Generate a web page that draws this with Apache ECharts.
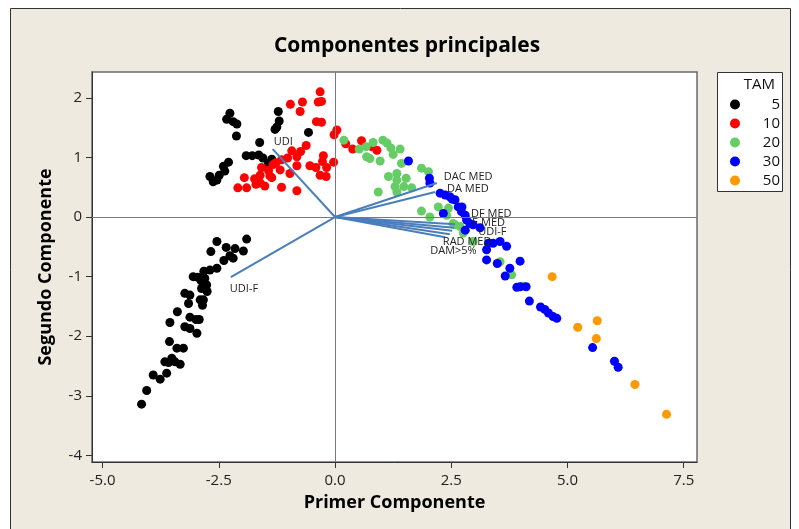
<!DOCTYPE html>
<html>
<head>
<meta charset="utf-8">
<script src="https://cdn.jsdelivr.net/npm/echarts@6/dist/echarts.min.js"></script>
<style>html,body{margin:0;padding:0;background:#fff;}#c{width:799px;height:529px;}</style>
</head>
<body>
<div id="c"></div>
<script>
// ---- data ----
const groupNames = ['5', '10', '20', '30', '50'];
const groupColors = ['#000000', '#FF0000', '#66CC66', '#0000FF', '#FF9900'];

const tam5 = [
  [-2.26,1.74],[-2.33,1.64],[-2.19,1.60],[-2.11,1.56],[-2.12,1.36],[-1.22,1.77],[-1.20,1.61],[-1.25,1.51],
  [-1.29,1.47],[-0.57,1.42],[-1.62,1.25],[-1.91,1.03],[-1.78,1.03],[-1.64,1.04],[-1.55,0.99],[-1.43,0.90],
  [-1.36,0.97],[-2.29,0.92],[-2.40,0.85],[-2.37,0.77],[-2.49,0.70],[-2.69,0.68],[-2.62,0.59],[-2.54,0.62],
  [-1.90,-0.37],[-2.54,-0.41],[-2.67,-0.58],[-2.34,-0.51],[-2.15,-0.53],[-1.97,-0.57],[-2.19,-0.69],[-2.39,-0.73],
  [-2.26,-0.65],[-2.54,-0.86],[-2.69,-0.89],[-2.82,-0.91],[-3.05,-1.00],[-2.95,-1.01],[-2.80,-1.03],[-2.88,-1.07],
  [-2.76,-1.14],[-2.87,-1.20],[-2.75,-1.25],[-2.83,-1.39],[-2.90,-1.39],[-2.85,-1.48],[-3.23,-1.28],[-3.12,-1.31],
  [-3.15,-1.45],[-3.39,-1.59],[-3.55,-1.77],[-3.12,-1.68],[-2.99,-1.72],[-2.92,-1.72],[-3.23,-1.84],[-3.12,-1.87],
  [-2.97,-1.95],[-3.56,-2.09],[-3.40,-2.20],[-3.26,-2.20],[-3.66,-2.43],[-3.51,-2.37],[-3.58,-2.44],[-3.44,-2.43],
  [-3.33,-2.47],[-3.91,-2.65],[-3.76,-2.72],[-3.62,-2.62],[-4.05,-2.91],[-4.16,-3.14]
];
const tam10 = [
  [-0.32,2.10],[-0.36,1.93],[-0.29,1.94],[-0.70,1.93],[-0.96,1.89],[-0.75,1.77],[-0.40,1.60],[-0.29,1.59],
  [0.04,1.46],[-0.02,1.38],[-0.93,1.11],[-0.62,1.20],[-0.74,1.10],[-0.82,1.01],[-1.02,0.99],[-1.15,0.96],
  [-1.27,0.91],[-1.33,0.88],[-1.58,0.83],[-1.43,0.78],[-1.18,0.79],[-0.82,0.86],[-0.54,0.86],[-0.41,0.83],
  [-0.25,1.03],[-0.27,0.93],[-0.18,0.83],[-0.03,0.92],[-0.32,0.70],[-0.19,0.68],[-0.97,0.73],[-1.61,0.70],
  [-1.73,0.64],[-1.40,0.69],[-1.36,0.66],[-1.95,0.66],[-2.09,0.49],[-1.90,0.49],[-1.70,0.55],[-1.61,0.57],
  [-1.51,0.52],[-1.15,0.50],[-0.82,0.44],[0.23,1.23],[0.38,1.14],[0.57,1.28],[0.79,1.18],[0.90,1.12]
];
const tam20 = [
  [0.19,1.29],[0.52,1.14],[0.67,1.18],[0.82,1.25],[1.03,1.29],[1.12,1.24],[1.20,1.16],[0.68,1.01],
  [0.75,0.98],[0.97,0.94],[1.25,1.05],[1.40,1.14],[1.43,0.90],[1.15,0.68],[1.33,0.73],[1.53,0.65],
  [1.48,0.51],[1.29,0.51],[1.65,0.49],[1.33,0.42],[0.93,0.42],[1.86,0.82],[2.01,0.76],[1.33,0.62],
  [1.86,0.10],[2.04,0.00],[2.22,0.17],[2.44,0.15],[2.40,0.03],[2.54,-0.11],[2.58,-0.13],[2.69,-0.16],
  [2.80,-0.22],[2.76,-0.27],[2.97,-0.41],[3.55,-0.75],[3.80,-0.97],[4.04,-1.16]
];
const tam30 = [
  [1.58,0.94],[2.03,0.65],[2.04,0.57],[2.26,0.40],[2.37,0.37],[2.47,0.34],[2.52,0.30],[2.58,0.29],
  [2.65,0.17],[2.73,0.17],[2.72,0.09],[2.80,0.03],[2.83,-0.05],[2.90,-0.11],[2.97,-0.13],[2.33,0.06],
  [2.80,-0.22],[3.12,-0.18],[3.30,-0.44],[3.40,-0.44],[3.55,-0.41],[3.69,-0.49],[3.26,-0.55],[3.26,-0.72],
  [3.49,-0.78],[3.98,-0.74],[3.76,-0.86],[3.66,-0.99],[3.91,-1.18],[3.98,-1.17],[4.11,-1.17],[4.18,-1.41],
  [4.42,-1.51],[4.51,-1.55],[4.59,-1.61],[4.69,-1.67],[4.77,-1.70],[5.54,-2.19],[6.01,-2.42],[6.09,-2.52]
];
const tam50 = [[4.67,-1.00],[5.22,-1.85],[5.64,-1.74],[5.62,-2.04],[6.45,-2.81],[7.13,-3.31]];

const loadingNames = ['UDI', 'UDI-F', 'DAC MED', 'DA MED', 'DF MED', 'E MED', 'UDI-F', 'RAD MED', 'DAM>5%'];
const loadingX = [-1.34, -2.24, 2.19, 2.15, 2.58, 2.56, 2.52, 2.47, 2.37];
const loadingY = [1.14, -1.01, 0.57, 0.42, -0.12, -0.18, -0.23, -0.29, -0.34];

const xTicks = [-5.0, -2.5, 0.0, 2.5, 5.0, 7.5];
const yTicks = [-4, -3, -2, -1, 0, 1, 2];

// ---- layout / style (not data) ----
const labelOffsets = [[1,-7],[-1,12],[7,-6],[12,-3],[16,-10],[18,-5],[26,1],[-7,8],[-15,14]];
const FONT = '"Open Sans", "DejaVu Sans", sans-serif';
const groups = [tam5, tam10, tam20, tam30, tam50];

const chart = echarts.init(document.getElementById('c'), null, {renderer: 'canvas'});

const scatterSeries = groups.map((g, i) => ({
  name: groupNames[i],
  type: 'scatter',
  data: g,
  symbol: 'circle',
  symbolSize: 9,
  itemStyle: {color: groupColors[i], opacity: 1},
  z: 3,
  silent: true
}));

const option = {
  animation: false,
  backgroundColor: '#ffffff',
  graphic: [
    {type: 'rect', z: -10, silent: true, shape: {x: 10.5, y: 8.5, width: 780, height: 540},
     style: {fill: '#EEEAE0', stroke: '#333333', lineWidth: 1}},
    {type: 'rect', z: 5, silent: true, shape: {x: 717.5, y: 72.5, width: 65, height: 119},
     style: {fill: '#ffffff', stroke: '#333333', lineWidth: 1}},
    {type: 'text', z: 6, silent: true, style: {text: 'TAM', x: 775, y: 85, align: 'right', verticalAlign: 'middle',
      font: '15px ' + FONT, fill: '#111'}},
    {type: 'text', z: 6, silent: true, style: {text: 'Componentes principales', x: 407, y: 46,
      align: 'center', verticalAlign: 'middle', font: 'bold 21px ' + FONT, fill: '#000'}}
  ],
  legend: {
    data: groupNames,
    orient: 'vertical',
    left: 725, top: 92,
    itemWidth: 10, itemHeight: 10, itemGap: 4,
    icon: 'circle',
    z: 7,
    formatter: n => '{r|' + n + '}',
    textStyle: {rich: {r: {width: 35, height: 15, lineHeight: 15, align: 'right', fontSize: 15, fontFamily: FONT, color: '#111'}}},
    selectedMode: false
  },
  grid: {left: 92, top: 72, right: 102, bottom: 67, show: true, borderColor: '#6a6a6a', borderWidth: 1.5,
    backgroundColor: '#ffffff'},
  xAxis: {
    type: 'value', min: -5.226, max: 7.785,
    name: 'Primer Componente', nameLocation: 'middle', nameGap: 32,
    nameTextStyle: {fontFamily: FONT, fontWeight: 'bold', fontSize: 18, color: '#000'},
    axisLine: {show: true, onZero: false, lineStyle: {color: '#333', width: 1}},
    axisTick: {show: true, inside: false, length: 6, customValues: xTicks, lineStyle: {color: '#333'}},
    axisLabel: {customValues: xTicks, margin: 11, fontFamily: FONT, fontSize: 15, color: '#222',
      formatter: v => v.toFixed(1)},
    splitLine: {show: false}
  },
  yAxis: {
    type: 'value', min: -4.11, max: 2.433,
    name: 'Segundo Componente', nameLocation: 'middle', nameGap: 37, nameRotate: 90,
    nameTextStyle: {fontFamily: FONT, fontWeight: 'bold', fontSize: 18, color: '#000'},
    axisLine: {show: true, onZero: false, lineStyle: {color: '#333', width: 1}},
    axisTick: {show: true, inside: false, length: 6, customValues: yTicks, lineStyle: {color: '#333'}},
    axisLabel: {customValues: yTicks, margin: 10, fontFamily: FONT, fontSize: 15, color: '#222',
      formatter: v => String(Math.round(v))},
    splitLine: {show: false}
  },
  series: [
    {
      name: 'ref', type: 'scatter', data: [], z: 1, silent: true,
      markLine: {silent: true, symbol: 'none', animation: false,
        lineStyle: {color: '#7a7a7a', width: 1, type: 'solid'}, label: {show: false},
        data: [{xAxis: 0}, {yAxis: 0}]}
    },
    ...scatterSeries,
    {
      name: 'loadings', type: 'custom', z: 8, silent: true,
      data: loadingX.map((x, i) => [x, loadingY[i], i]),
      encode: {x: 0, y: 1},
      renderItem: function (params, api) {
        const i = api.value(2);
        const o = api.coord([0, 0]);
        const p = api.coord([api.value(0), api.value(1)]);
        const off = labelOffsets[i];
        return {type: 'group', children: [
          {type: 'line', shape: {x1: o[0], y1: o[1], x2: p[0], y2: p[1]},
           style: {stroke: '#4A7EBB', lineWidth: 2}},
          {type: 'text', z2: 10, style: {text: loadingNames[i], x: p[0] + off[0], y: p[1] + off[1],
            align: 'left', verticalAlign: 'middle', font: '11px ' + FONT, fill: '#222'}}
        ]};
      }
    }
  ]
};
chart.setOption(option);
</script>
</body>
</html>
